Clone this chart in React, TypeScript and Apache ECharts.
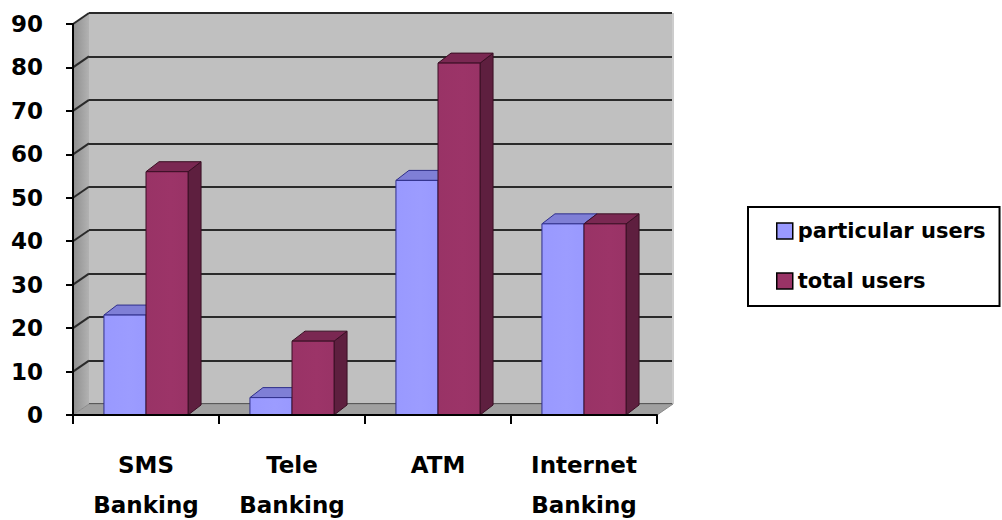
import { useEffect, useRef } from "react";
import * as echarts from "echarts";

// Banking channel usage
const categories = ["SMS Banking", "Tele Banking", "ATM", "Internet Banking"];
const seriesNames = ["particular users", "total users"];
const particularUsers = [23, 4, 54, 44];
const totalUsers = [56, 17, 81, 44];
const yMin = 0;
const yMax = 90;
const yStep = 10;

const FONT = "'DejaVu Sans', sans-serif";

// 3D look: wall depth and column depth offsets (px)
const WALL_DX = 16;
const WALL_DY = 11;
const BAR_DX = 13;
const BAR_DY = 10;
const BAR_FRAC = 0.288;

const palettes = [
  { front: "#9999ff", top: "#7f7fd6", side: "#6a6ab8", stroke: "#2e2e8a" },
  { front: "#993366", top: "#7a2852", side: "#5e1f3f", stroke: "#3a0f24" },
];

function barRenderer(slot: number) {
  const pal = palettes[slot];
  return (_params: any, api: any) => {
    const idx = api.value(0);
    const val = api.value(1);
    const base = api.coord([idx, 0]);
    const top = api.coord([idx, val]);
    const bw = api.size([1, 0])[0] * BAR_FRAC;
    const xl = slot === 0 ? base[0] - bw : base[0];
    const xr = xl + bw;
    const yb = base[1];
    const yt = top[1];
    return {
      type: "group",
      children: [
        {
          type: "polygon",
          shape: { points: [[xr, yt], [xr + BAR_DX, yt - BAR_DY], [xr + BAR_DX, yb - BAR_DY], [xr, yb]] },
          style: { fill: pal.side, stroke: pal.stroke, lineWidth: 1 },
        },
        {
          type: "polygon",
          shape: { points: [[xl, yt], [xr, yt], [xr + BAR_DX, yt - BAR_DY], [xl + BAR_DX, yt - BAR_DY]] },
          style: { fill: pal.top, stroke: pal.stroke, lineWidth: 1 },
        },
        {
          type: "rect",
          shape: { x: xl, y: yt, width: bw, height: yb - yt },
          style: {
            fill: new echarts.graphic.LinearGradient(0, 0, 1, 0, [
              { offset: 0, color: pal.front },
              { offset: 0.6, color: echarts.color.lift(pal.front, -0.02) },
              { offset: 1, color: pal.front },
            ]),
            stroke: pal.stroke,
            lineWidth: 1,
          },
        },
      ],
    };
  };
}

// side wall and floor of the 3D frame
function frameRenderer(params: any, api: any) {
  const cs = params.coordSys;
  const x0 = cs.x;
  const x1 = cs.x + cs.width;
  const yb = cs.y + cs.height;
  const yt = cs.y;
  const children: any[] = [
    {
      type: "polygon",
      shape: { points: [[x0, yb], [x0, yt], [x0 + WALL_DX, yt - WALL_DY], [x0 + WALL_DX, yb - WALL_DY]] },
      style: {
        fill: new echarts.graphic.LinearGradient(0, 0, 1, 0, [
          { offset: 0, color: "#8e8e8e" },
          { offset: 1, color: "#b2b2b2" },
        ]),
      },
    },
    {
      type: "polygon",
      shape: { points: [[x0, yb], [x1, yb], [x1 + WALL_DX, yb - WALL_DY], [x0 + WALL_DX, yb - WALL_DY]] },
      style: { fill: "#a0a0a0", stroke: "#8a8a8a", lineWidth: 1 },
    },
  ];
  for (let v = yMin + yStep; v <= yMax; v += yStep) {
    const y = api.coord([0, v])[1];
    children.push({
      type: "line",
      shape: { x1: x0, y1: y, x2: x0 + WALL_DX, y2: y - WALL_DY },
      style: { stroke: "#2a2a2a", lineWidth: 2 },
    });
  }
  children.push({
    type: "line",
    shape: { x1: x1 + WALL_DX, y1: yt - WALL_DY, x2: x1 + WALL_DX, y2: yb - WALL_DY },
    style: { stroke: "#9a9a9a", lineWidth: 1 },
  });
  return { type: "group", children };
}

export default function App() {
  const ref = useRef<HTMLDivElement>(null);

  useEffect(() => {
    if (!ref.current) return;
    const chart = echarts.init(ref.current, undefined, { renderer: "svg" });
    const frontGrid = { left: 73, top: 24, right: 345, bottom: 105 };
    chart.setOption({
      animation: false,
      backgroundColor: "#ffffff",
      grid: [
        { ...frontGrid, outerBoundsMode: "none" },
        {
          left: frontGrid.left + WALL_DX,
          top: frontGrid.top - WALL_DY,
          right: frontGrid.right - WALL_DX + 1,
          bottom: frontGrid.bottom + WALL_DY,
          outerBoundsMode: "none",
          show: true,
          backgroundColor: "#c0c0c0",
          borderWidth: 0,
        },
      ],
      xAxis: [
        {
          type: "category",
          gridIndex: 0,
          data: categories,
          z: 5,
          axisLine: { show: true, lineStyle: { color: "#000", width: 2 } },
          axisTick: { show: true, length: 9, lineStyle: { color: "#000", width: 2 } },
          axisLabel: {
            margin: 30,
            interval: 0,
            color: "#000",
            fontFamily: FONT,
            fontWeight: "bold",
            fontSize: 23,
            lineHeight: 40,
            formatter: (s: string) => s.replace(" ", "\n"),
          },
        },
        { type: "category", gridIndex: 1, data: categories, show: false },
      ],
      yAxis: [
        {
          type: "value",
          gridIndex: 0,
          min: yMin,
          max: yMax,
          interval: yStep,
          z: 5,
          axisLine: { show: true, lineStyle: { color: "#000", width: 2 } },
          axisTick: { show: true, length: 7, lineStyle: { color: "#000", width: 2 } },
          splitLine: { show: false },
          axisLabel: {
            margin: 30,
            color: "#000",
            fontFamily: FONT,
            fontWeight: "bold",
            fontSize: 23,
          },
        },
        {
          type: "value",
          gridIndex: 1,
          min: yMin,
          max: yMax,
          interval: yStep,
          axisLine: { show: false },
          axisTick: { show: false },
          axisLabel: { show: false },
          splitLine: { show: true, lineStyle: { color: "#2a2a2a", width: 2 } },
        },
      ],
      legend: {
        orient: "vertical",
        left: 748,
        top: 207,
        padding: [12, 14, 13, 28],
        itemGap: 26,
        itemWidth: 16,
        itemHeight: 16,
        borderColor: "#000",
        borderWidth: 2,
        textStyle: { fontFamily: FONT, fontWeight: "bold", fontSize: 21, lineHeight: 24, color: "#000" },
        data: seriesNames.map((name, i) => ({
          name,
          icon: "rect",
          itemStyle: { color: palettes[i].front, borderColor: "#000", borderWidth: 1.5 },
        })),
      },
      series: [
        {
          type: "custom",
          name: "frame",
          xAxisIndex: 0,
          yAxisIndex: 0,
          z: 1,
          silent: true,
          renderItem: frameRenderer,
          data: [[0, 0]],
          encode: { x: 0, y: 1 },
        },
        {
          type: "custom",
          name: seriesNames[0],
          xAxisIndex: 0,
          yAxisIndex: 0,
          z: 2,
          itemStyle: { color: palettes[0].front },
          renderItem: barRenderer(0),
          data: particularUsers.map((v, i) => [i, v]),
          encode: { x: 0, y: 1 },
        },
        {
          type: "custom",
          name: seriesNames[1],
          xAxisIndex: 0,
          yAxisIndex: 0,
          z: 3,
          itemStyle: { color: palettes[1].front },
          renderItem: barRenderer(1),
          data: totalUsers.map((v, i) => [i, v]),
          encode: { x: 0, y: 1 },
        },
      ],
    });
    return () => chart.dispose();
  }, []);

  return (
    <div
      ref={ref}
      style={{ position: "absolute", left: 0, top: 0, width: 1002, height: 520 }}
    />
  );
}
